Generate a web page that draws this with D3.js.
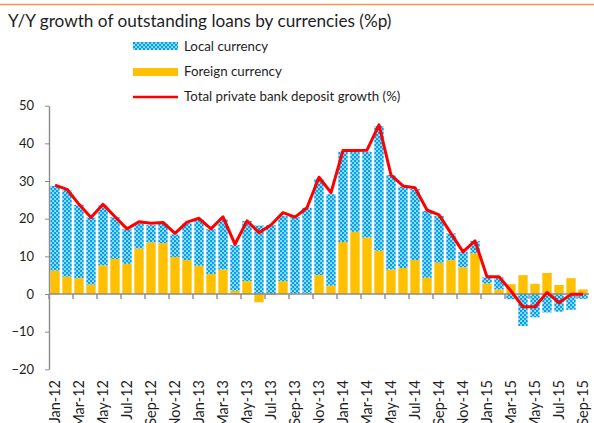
<!DOCTYPE html>
<html>
<head>
<meta charset="utf-8">
<script src="https://cdn.jsdelivr.net/npm/d3@7/dist/d3.min.js"></script>
<style>
  body { margin: 0; background: #fff; }
  text { font-family: Lato, "Liberation Sans", sans-serif; fill: #1e1e1e; }
  .axis path, .axis line { stroke: #8c8c8c; }
</style>
</head>
<body>
<div id="chart"></div>
<script>
// month labels, one per bar
var months = ["Jan-12","Feb-12","Mar-12","Apr-12","May-12","Jun-12","Jul-12","Aug-12","Sep-12","Oct-12","Nov-12","Dec-12",
  "Jan-13","Feb-13","Mar-13","Apr-13","May-13","Jun-13","Jul-13","Aug-13","Sep-13","Oct-13","Nov-13","Dec-13",
  "Jan-14","Feb-14","Mar-14","Apr-14","May-14","Jun-14","Jul-14","Aug-14","Sep-14","Oct-14","Nov-14","Dec-14",
  "Jan-15","Feb-15","Mar-15","Apr-15","May-15","Jun-15","Jul-15","Aug-15","Sep-15"];

// contribution of foreign currency loans (%p)
var foreign = [6.2, 4.6, 4.2, 2.5, 7.6, 9.3, 8.0, 12.1, 13.7, 13.5, 9.8, 9.0,
  7.5, 5.3, 6.5, 0.9, 3.4, -2.2, -0.3, 3.4, 0.1, 0.3, 5.0, 2.2,
  13.8, 16.5, 15.0, 11.5, 6.5, 6.9, 9.0, 4.3, 8.3, 9.0, 7.1, 10.8,
  2.8, 1.2, 2.6, 5.0, 2.7, 5.6, 2.4, 4.2, 1.2];

// contribution of local currency loans (%p)
var local = [22.5, 23.0, 19.5, 17.8, 15.9, 11.1, 9.2, 6.7, 4.6, 5.1, 6.0, 9.8,
  12.3, 11.9, 13.4, 12.1, 16.0, 18.2, 18.3, 17.3, 20.3, 22.6, 25.6, 24.3,
  24.0, 21.3, 22.8, 33.1, 25.1, 21.6, 18.9, 17.8, 12.4, 7.1, 4.1, 3.3,
  1.6, 3.2, -1.4, -8.5, -6.2, -4.9, -4.7, -4.2, -1.3];

// total private bank deposit growth (%)
var deposit = [28.9, 27.8, 23.8, 20.3, 23.8, 20.5, 17.3, 19.2, 18.8, 19.0, 16.1, 19.1,
  20.1, 17.3, 20.5, 13.2, 19.4, 16.3, 18.3, 21.6, 20.4, 22.9, 31.0, 26.9,
  38.1, 38.1, 38.2, 44.9, 31.6, 28.7, 28.2, 22.3, 21.0, 16.1, 11.2, 14.1,
  4.6, 4.6, 0.8, -3.4, -3.4, 0.4, -2.3, -0.1, -0.1];

var yTicks = [-20, -10, 0, 10, 20, 30, 40, 50];

var svgWidth = 594;
var svgHeight = 423;
var plot = { left: 49, right: 589, top: 105.7, bottom: 369.3 };

var svg = d3.select("#chart")
  .append("svg")
  .attr("width", svgWidth)
  .attr("height", svgHeight);

// checkered fill used for the local currency bars
var defs = svg.append("defs");
var pat = defs.append("pattern")
  .attr("id", "checker")
  .attr("width", 4)
  .attr("height", 4)
  .attr("patternUnits", "userSpaceOnUse");
pat.append("rect").attr("width", 4).attr("height", 4).attr("fill", "#00a3ea");
pat.append("rect").attr("x", 0.3).attr("y", 0.3).attr("width", 1.5).attr("height", 1.5).attr("fill", "#ffffff");
pat.append("rect").attr("x", 2.3).attr("y", 2.3).attr("width", 1.5).attr("height", 1.5).attr("fill", "#ffffff");

// page rule above the chart title
svg.append("line")
  .attr("x1", 0).attr("x2", svgWidth)
  .attr("y1", 4.5).attr("y2", 4.5)
  .attr("stroke", "#f79646")
  .attr("stroke-width", 1.6);

svg.append("text")
  .attr("x", 8)
  .attr("y", 27)
  .style("font-size", "17.2px")
  .text("Y/Y growth of outstanding loans by currencies (%p)");

var x = d3.scaleBand()
  .domain(months)
  .range([plot.left, plot.right])
  .paddingInner(0.22)
  .paddingOuter(0.11);

var y = d3.scaleLinear()
  .domain([-20, 50])
  .range([plot.bottom, plot.top]);

var rows = months.map(function(m, i) {
  return { month: m, foreign: foreign[i], local: local[i] };
});

var series = d3.stack()
  .keys(["foreign", "local"])
  .offset(d3.stackOffsetDiverging)(rows);

var fills = { foreign: "#ffc000", local: "url(#checker)" };

svg.append("g")
  .selectAll("g")
  .data(series)
  .enter()
  .append("g")
  .attr("fill", function(s) { return fills[s.key]; })
  .selectAll("rect")
  .data(function(s) { return s; })
  .enter()
  .append("rect")
  .attr("x", function(d) { return x(d.data.month); })
  .attr("width", x.bandwidth())
  .attr("y", function(d) { return y(Math.max(d[0], d[1])); })
  .attr("height", function(d) { return Math.abs(y(d[0]) - y(d[1])); });

// y axis
var yAxis = svg.append("g")
  .attr("class", "axis")
  .attr("transform", "translate(" + plot.left + ",0)")
  .call(d3.axisLeft(y).tickValues(yTicks).tickSize(4).tickPadding(11).tickSizeOuter(0));
yAxis.select(".domain").attr("stroke-width", 1.4);
yAxis.selectAll("text")
  .style("font-size", "13px")
  .attr("fill", "#1e1e1e");

// x axis on the zero line: ticks every two months, labels on the month
var zeroY = y(0);
var xAxis = svg.append("g").attr("class", "axis");
xAxis.append("line")
  .attr("x1", plot.left).attr("x2", plot.right)
  .attr("y1", zeroY).attr("y2", zeroY)
  .attr("stroke-width", 1.4);
var tickIdx = d3.range(0, months.length + 1, 2);
xAxis.selectAll(".tick")
  .data(tickIdx)
  .enter()
  .append("line")
  .attr("x1", function(i) { return plot.left + i * x.step(); })
  .attr("x2", function(i) { return plot.left + i * x.step(); })
  .attr("y1", zeroY)
  .attr("y2", zeroY + 5)
  .attr("stroke-width", 1.4);

var labelMonths = months.filter(function(m, i) { return i % 2 === 0; });
svg.append("g")
  .selectAll("text")
  .data(labelMonths)
  .enter()
  .append("text")
  .attr("transform", function(m) {
    return "translate(" + (x(m) + x.bandwidth() / 2) + ",380) rotate(-90)";
  })
  .attr("text-anchor", "end")
  .attr("dy", "0.35em")
  .style("font-size", "14.5px")
  .text(function(m) { return m; });

// deposit growth line
var line = d3.line()
  .x(function(d, i) { return x(months[i]) + x.bandwidth() / 2; })
  .y(function(d) { return y(d); });

svg.append("path")
  .datum(deposit)
  .attr("d", line)
  .attr("fill", "none")
  .attr("stroke", "#ff0000")
  .attr("stroke-width", 3)
  .attr("stroke-linejoin", "round");

// legend
var legend = svg.append("g").attr("transform", "translate(133,0)");
legend.append("rect")
  .attr("x", 0).attr("y", 42).attr("width", 45).attr("height", 8)
  .attr("fill", "url(#checker)");
legend.append("rect")
  .attr("x", 0).attr("y", 68).attr("width", 45).attr("height", 8)
  .attr("fill", "#ffc000");
legend.append("line")
  .attr("x1", 0).attr("x2", 45)
  .attr("y1", 97).attr("y2", 97)
  .attr("stroke", "#ff0000")
  .attr("stroke-width", 2.5);

var legendText = ["Local currency", "Foreign currency", "Total private bank deposit growth (%)"];
legend.selectAll(".lt")
  .data(legendText)
  .enter()
  .append("text")
  .attr("x", 51)
  .attr("y", function(d, i) { return 51 + i * 25; })
  .style("font-size", "13.3px")
  .text(function(d) { return d; });
</script>
</body>
</html>
